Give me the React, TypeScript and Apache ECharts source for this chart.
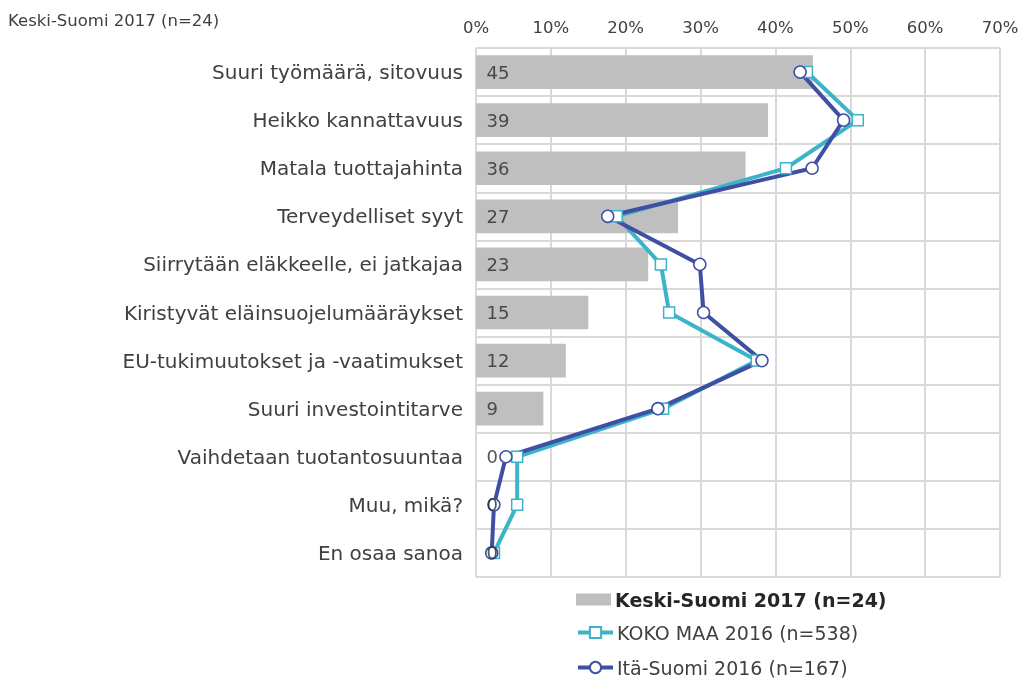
import React, { useEffect, useRef } from "react";
import * as echarts from "echarts";

const categories = [
  "Suuri työmäärä, sitovuus",
  "Heikko kannattavuus",
  "Matala tuottajahinta",
  "Terveydelliset syyt",
  "Siirrytään eläkkeelle, ei jatkajaa",
  "Kiristyvät eläinsuojelumääräykset",
  "EU-tukimuutokset ja -vaatimukset",
  "Suuri investointitarve",
  "Vaihdetaan tuotantosuuntaa",
  "Muu, mikä?",
  "En osaa sanoa",
];
const keskiSuomi2017 = [45, 39, 36, 27, 23, 15, 12, 9, 0, 0, 0];
const kokoMaa2016 = [44.2, 51.0, 41.4, 18.8, 24.7, 25.8, 37.5, 25.0, 5.5, 5.5, 2.4];
const itaSuomi2016 = [43.3, 49.1, 44.9, 17.6, 29.9, 30.4, 38.2, 24.3, 4.0, 2.4, 2.1];
const xTicks = [0, 10, 20, 30, 40, 50, 60, 70];

const seriesNames = ["Keski-Suomi 2017 (n=24)", "KOKO MAA 2016 (n=538)", "Itä-Suomi 2016 (n=167)"];

const FONT = "DejaVu Sans";

export default function App() {
  const ref = useRef<HTMLDivElement>(null);
  useEffect(() => {
    if (!ref.current) return;
    const chart = echarts.init(ref.current, null, { renderer: "svg" });
    const legendBase = {
      orient: "horizontal",
      left: 576,
      itemWidth: 35,
      itemHeight: 12,
      itemGap: 0,
      padding: 0,
      textStyle: { fontSize: 19, color: "#404040", fontFamily: FONT, padding: [0, 0, 0, -1] },
    };
    chart.setOption({
      animation: false,
      textStyle: { fontFamily: FONT },
      title: {
        text: "Keski-Suomi 2017 (n=24)",
        left: 3,
        top: 7,
        textStyle: { fontFamily: FONT, fontSize: 16.5, fontWeight: "normal", color: "#404040" },
      },
      grid: { left: 476, right: 22, top: 48, bottom: 102 },
      xAxis: {
        type: "value",
        position: "top",
        min: xTicks[0],
        max: xTicks[xTicks.length - 1],
        interval: 10,
        axisLine: { show: false },
        axisTick: { show: false },
        axisLabel: { formatter: "{value}%", fontSize: 16.5, color: "#404040", fontFamily: FONT, margin: 12 },
        splitLine: { show: true, lineStyle: { color: "#d9d9d9", width: 2 } },
      },
      yAxis: {
        type: "category",
        inverse: true,
        data: categories,
        axisLine: { show: false },
        axisTick: { show: false },
        axisLabel: { fontSize: 20, color: "#404040", fontFamily: FONT, margin: 13 },
        splitLine: { show: true, lineStyle: { color: "#d9d9d9", width: 2 } },
      },
      legend: [
        {
          ...legendBase,
          top: 590,
          data: [{ name: seriesNames[0], icon: "rect", textStyle: { fontWeight: "bold", color: "#262626" } }],
        },
        {
          ...legendBase,
          top: 623,
          itemHeight: 14,
          lineStyle: { width: 4 },
          data: [seriesNames[1]],
        },
        {
          ...legendBase,
          top: 658,
          itemHeight: 14,
          lineStyle: { width: 4 },
          data: [seriesNames[2]],
        },
      ],
      series: [
        {
          name: seriesNames[0],
          type: "bar",
          data: keskiSuomi2017,
          barCategoryGap: "30%",
          itemStyle: { color: "#bfbfbf" },
          label: { show: false },
        },
        {
          name: seriesNames[1],
          type: "line",
          data: kokoMaa2016,
          symbol: "rect",
          symbolSize: 11,
          lineStyle: { color: "#3bb3c8", width: 4 },
          itemStyle: { color: "#ffffff", borderColor: "#3bb3c8", borderWidth: 1.5 },
        },
        {
          name: seriesNames[2],
          type: "line",
          data: itaSuomi2016,
          symbol: "circle",
          symbolSize: 12,
          lineStyle: { color: "#3f4fa3", width: 4 },
          itemStyle: { color: "#ffffff", borderColor: "#3f4fa3", borderWidth: 1.5 },
        },
        {
          name: "barLabels",
          type: "scatter",
          z: 10,
          symbol: "circle",
          symbolSize: 1,
          silent: true,
          itemStyle: { color: "rgba(0,0,0,0)" },
          data: keskiSuomi2017.map((v, i) => [0, categories[i], v]),
          label: {
            show: true,
            position: "right",
            distance: 10,
            formatter: (p: any) => String(p.value[2]),
            fontSize: 18,
            color: "#2b2b2b",
            fontFamily: FONT,
          },
        },
      ],
    });
    return () => chart.dispose();
  }, []);
  return <div ref={ref} style={{ position: "fixed", left: 0, top: 0, width: 1022, height: 679 }} />;
}
